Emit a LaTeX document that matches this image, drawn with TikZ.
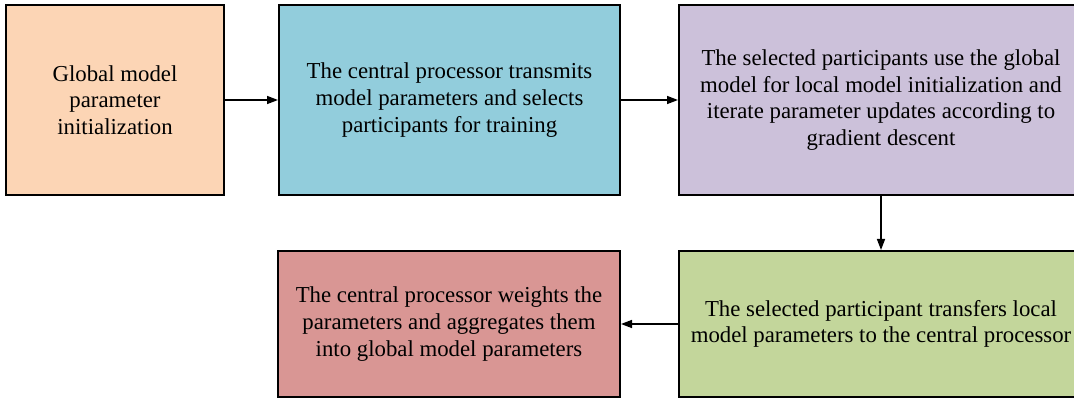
\documentclass[tikz,border=0pt]{standalone}
\usepackage{fontspec}
\setmainfont{Liberation Serif}
\newfontfamily\tnr{Liberation Serif}
\usetikzlibrary{arrows.meta}
\definecolor{cpeach}{HTML}{FCD5B5}
\definecolor{ccyan}{HTML}{92CDDC}
\definecolor{cpurple}{HTML}{CCC1DA}
\definecolor{cgreen}{HTML}{C3D69B}
\definecolor{cred}{HTML}{D99694}
\begin{document}
\begin{tikzpicture}[x=1pt,y=-1pt,
  stepbox/.style={draw=black,line width=2pt,rectangle,align=center,inner sep=0pt,
    font=\tnr\fontsize{22.8}{26.7}\selectfont},
  flow/.style={line width=1.5pt,-{Triangle[length=11pt,width=8pt]}}]
\useasboundingbox (0,0) rectangle (1074,398);
\begin{scope}
\clip (0,0) rectangle (1074,398);
\node[stepbox,fill=cpeach,minimum width=218pt,minimum height=190pt] (a) at (115,100)
  {Global model\\parameter\\initialization};
\node[stepbox,fill=ccyan,minimum width=341pt,minimum height=190pt] (b) at (449.5,100)
  {The central processor transmits\\model parameters and selects\\participants for training};
\node[stepbox,fill=cpurple,minimum width=404pt,minimum height=190pt] (c) at (881,100)
  {The selected participants use the global\\model for local model initialization and\\iterate parameter updates according to\\gradient descent};
\node[stepbox,fill=cgreen,minimum width=404pt,minimum height=146pt] (d) at (881,324)
  {The selected participant transfers local\\model parameters to the central processor};
\node[stepbox,fill=cred,minimum width=342pt,minimum height=146pt] (e) at (449,324)
  {The central processor weights the\\parameters and aggregates them\\into global model parameters};
\end{scope}
\draw[flow] (a.east) -- (b.west);
\draw[flow] (b.east) -- (c.west);
\draw[flow] (c.south) -- (d.north);
\draw[flow] (d.west) -- (e.east);
\end{tikzpicture}
\end{document}
